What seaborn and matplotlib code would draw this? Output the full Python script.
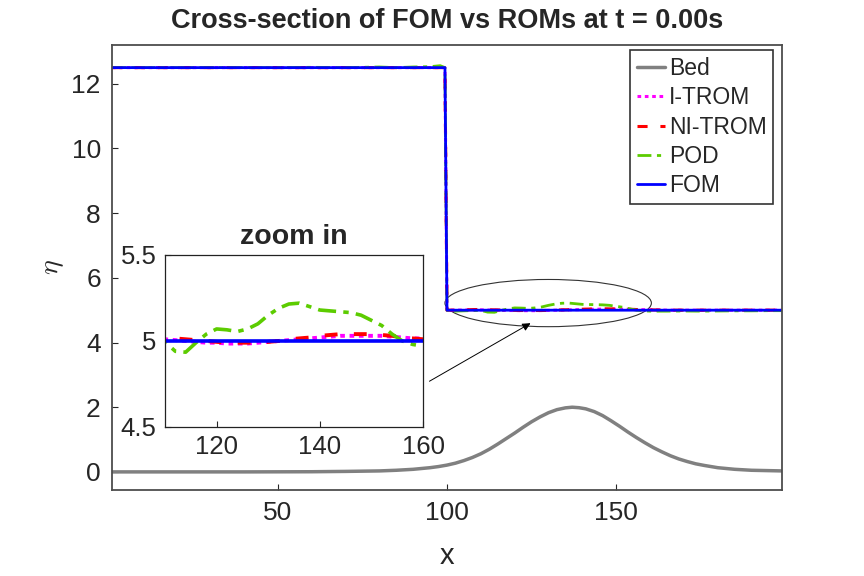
import matplotlib

matplotlib.use("Agg")
import matplotlib.pyplot as plt
from matplotlib.patches import Ellipse
from matplotlib.ticker import FuncFormatter
import seaborn as sns

# cross-section sample points (x) shared by the surface series
X = [1, 10, 20, 30, 40, 50, 60, 70, 75, 80, 85, 90, 95, 98, 99.4,
     100, 102, 105, 108, 110, 112, 114, 116, 118, 120, 122, 124, 126, 128, 130,
     132, 134, 136, 138, 140, 142, 144, 146, 148, 150, 152, 154, 156, 158, 160,
     165, 170, 175, 180, 185, 190, 195, 199]

FOM = [12.5, 12.5, 12.5, 12.5, 12.5, 12.5, 12.5, 12.5, 12.5, 12.5, 12.5, 12.5, 12.5, 12.5, 12.5,
       5.0, 5.0, 5.0, 5.0, 5.0, 5.0, 5.0, 5.0, 5.0, 5.0, 5.0, 5.0, 5.0, 5.0, 5.0,
       5.0, 5.0, 5.0, 5.0, 5.0, 5.0, 5.0, 5.0, 5.0, 5.0, 5.0, 5.0, 5.0, 5.0, 5.0,
       5.0, 5.0, 5.0, 5.0, 5.0, 5.0, 5.0, 5.0]

POD = [12.5, 12.5, 12.5, 12.5, 12.5, 12.5, 12.51, 12.5, 12.51, 12.52, 12.5, 12.52, 12.53, 12.56, 12.5,
       5.0, 4.97, 4.98, 4.99, 4.995, 4.94, 4.935, 4.99, 5.04, 5.07, 5.065, 5.055, 5.07, 5.10, 5.15,
       5.19, 5.215, 5.22, 5.20, 5.18, 5.175, 5.17, 5.165, 5.15, 5.12, 5.09, 5.04, 5.0, 4.98, 4.97,
       4.97, 4.975, 4.97, 4.975, 4.98, 4.98, 4.985, 4.985]

NI_TROM = [12.5, 12.5, 12.5, 12.5, 12.5, 12.5, 12.5, 12.5, 12.5, 12.5, 12.5, 12.5, 12.5, 12.5, 12.5,
           5.0, 5.0, 5.01, 5.02, 5.02, 5.015, 5.01, 5.005, 5.0, 4.995, 4.99, 4.99, 4.99, 4.99, 4.995,
           5.0, 5.01, 5.015, 5.02, 5.03, 5.035, 5.04, 5.04, 5.04, 5.04, 5.035, 5.03, 5.02, 5.015, 5.01,
           5.0, 5.0, 5.0, 5.0, 5.0, 5.0, 5.0, 5.0]

I_TROM = [12.5, 12.5, 12.5, 12.5, 12.5, 12.5, 12.5, 12.5, 12.5, 12.5, 12.5, 12.5, 12.5, 12.5, 12.5,
          5.0, 5.0, 5.005, 5.01, 5.01, 5.005, 5.0, 4.995, 4.99, 4.99, 4.985, 4.985, 4.985, 4.99, 4.995,
          5.0, 5.005, 5.01, 5.015, 5.02, 5.025, 5.03, 5.03, 5.03, 5.03, 5.03, 5.025, 5.02, 5.015, 5.015,
          5.0, 5.0, 5.0, 5.0, 5.0, 5.0, 5.0, 5.0]

BED_X = [1, 20, 40, 60, 70, 80, 85, 90, 95, 97.5, 100, 102.5, 105, 107.5, 110, 112.5, 115,
         117.5, 120, 122.5, 125, 127.5, 130, 132.5, 135, 137, 139, 141, 143.5, 146, 148.5,
         151, 153.5, 156, 158.5, 161, 163.5, 166, 168.5, 171, 173.5, 176, 180, 185, 190, 199]
BED = [0.0, 0.0, 0.0, 0.005, 0.015, 0.03, 0.05, 0.08, 0.13, 0.165, 0.21, 0.27, 0.35, 0.445,
       0.56, 0.70, 0.86, 1.03, 1.2, 1.38, 1.55, 1.70, 1.83, 1.925, 1.98, 2.0, 1.985, 1.95,
       1.865, 1.74, 1.58, 1.41, 1.23, 1.06, 0.90, 0.75, 0.62, 0.50, 0.40, 0.32, 0.25, 0.20,
       0.13, 0.08, 0.05, 0.03]

# (label, y values, color, linestyle, linewidth) in drawing order
SERIES = [
    ("I-TROM", I_TROM, "#ff00ff", (0, (1.2, 1.2)), 2.2),
    ("NI-TROM", NI_TROM, "#ff0000", (0, (3.3, 4.2)), 2.2),
    ("POD", POD, "#5ccc00", (0, (5, 2, 1.5, 2)), 2.0),
    ("FOM", FOM, "#0000ff", "-", 2.0),
]

sns.set_style("ticks")
plt.rcParams["font.family"] = ["Liberation Sans", "DejaVu Sans"]
plt.rcParams["mathtext.fontset"] = "cm"

fig = plt.figure(figsize=(8.64, 5.76), dpi=100)
ax = fig.add_axes([0.1296, 0.1493, 0.7755, 0.7726])

sns.lineplot(x=BED_X, y=BED, ax=ax, color="#808080", linewidth=2.5, label="Bed",
             estimator=None)
for name, vals, color, ls, lw in SERIES:
    sns.lineplot(x=X, y=vals, ax=ax, color=color, linestyle=ls, linewidth=lw,
                 label=name, estimator=None)

ax.set_xlim(1, 199)
ax.set_ylim(-0.56, 13.2)
ax.set_xticks([50, 100, 150])
ax.set_yticks([0, 2, 4, 6, 8, 10, 12])
ax.tick_params(direction="in", length=4, labelsize=19, colors="#262626", pad=8)
for sp in ax.spines.values():
    sp.set_color("#4d4d4d")
    sp.set_linewidth(1.3)
ax.set_xlabel("x", fontsize=21, labelpad=12)
ax.set_ylabel(r"$\eta$", fontsize=20, labelpad=4)
ax.set_title("Cross-section of FOM vs ROMs at t = 0.00s", fontsize=19.5,
             fontweight="bold", pad=12)

leg = ax.legend(loc="upper right", bbox_to_anchor=(0.987, 0.989), fontsize=16.5,
                frameon=True, fancybox=False, framealpha=1, edgecolor="#333333",
                handlelength=1.25, handletextpad=0.15, borderpad=0.3,
                labelspacing=0.28, borderaxespad=0)
leg.get_frame().set_linewidth(1.2)

# ellipse around the zoomed region and the pointer arrow
ax.add_patch(Ellipse((129.9, 5.22), 61, 1.46, fill=False, edgecolor="#333333",
                     linewidth=0.8))
ax.annotate("", xy=(125.4, 4.64), xytext=(94.1, 2.76),
            arrowprops=dict(arrowstyle="-|>", color="black", linewidth=0.7,
                            mutation_scale=12))

# inset
ins = fig.add_axes([0.191, 0.2587, 0.2986, 0.2986])
for name, vals, color, ls, lw in SERIES:
    sns.lineplot(x=X, y=vals, ax=ins, color=color, linestyle=ls,
                 linewidth=lw + 0.6, estimator=None, legend=False)
ins.set_xlim(110, 160)
ins.set_ylim(4.5, 5.5)
ins.set_xticks([120, 140, 160])
ins.set_yticks([4.5, 5, 5.5])
ins.yaxis.set_major_formatter(FuncFormatter(lambda v, p: f"{v:g}"))
ins.tick_params(direction="in", length=4, labelsize=18.5, colors="#262626", pad=6)
for sp in ins.spines.values():
    sp.set_color("#222222")
    sp.set_linewidth(0.9)
ins.set_title("zoom in", fontsize=20.5, fontweight="bold", pad=8)

fig.savefig("out.png", dpi=100)
